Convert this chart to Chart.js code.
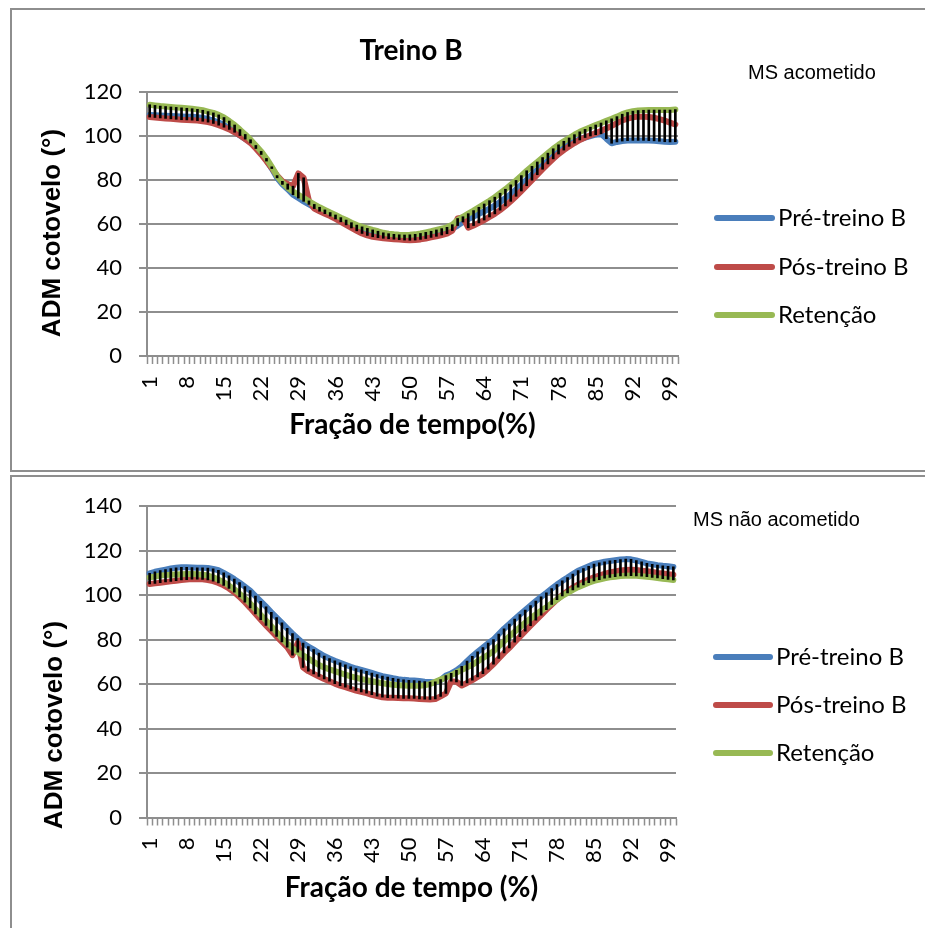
<!DOCTYPE html>
<html><head><meta charset="utf-8">
<script src="https://cdn.jsdelivr.net/npm/chart.js@4.4.0/dist/chart.umd.min.js"></script>
<style>
html,body{margin:0;padding:0;background:#fff;width:925px;height:928px;overflow:hidden;}
.box{position:absolute;left:10px;width:940px;border:2px solid #8e8e8e;box-sizing:border-box;}
#b1{top:8px;height:464px;}
#b2{top:475px;height:470px;}
canvas{position:absolute;left:0;}
#c1{top:0;}
#c2{top:476px;}
</style></head><body>
<div class="box" id="b1"></div><div class="box" id="b2"></div>
<canvas id="c1" width="925" height="470"></canvas>
<canvas id="c2" width="925" height="452"></canvas>
<script>
const categories = ['1','2','3','4','5','6','7','8','9','10','11','12','13','14','15','16','17','18','19','20',
'21','22','23','24','25','26','27','28','29','30','31','32','33','34','35','36','37','38','39','40',
'41','42','43','44','45','46','47','48','49','50','51','52','53','54','55','56','57','58','59','60',
'61','62','63','64','65','66','67','68','69','70','71','72','73','74','75','76','77','78','79','80',
'81','82','83','84','85','86','87','88','89','90','91','92','93','94','95','96','97','98','99','100'];
const xTickLabels = ['1','8','15','22','29','36','43','50','57','64','71','78','85','92','99'];
const seriesNames = ['Pré-treino B','Pós-treino B','Retenção'];
const seriesColors = ['#4A7EBB','#BE4B48','#98B954'];

// Top chart: MS acometido
const topPre = [109.5,109.4,109.3,109.2,109.1,109.0,108.9,108.8,108.7,108.5,
108.2,107.7,107.0,106.1,105.0,103.6,102.0,100.2,98.6,97.5,
94.9,92.2,89.0,85.2,81.0,78.0,75.8,73.3,71.8,70.3,
68.9,67.6,66.4,65.3,64.3,63.2,62.1,61.0,59.8,58.7,
57.8,57.0,56.3,55.7,55.2,54.8,54.5,54.3,54.2,54.2,
54.3,54.6,55.0,55.5,56.0,56.6,57.2,57.9,59.3,60.9,
62.2,63.4,64.6,65.8,67.0,68.3,70.0,71.8,73.6,75.7,
77.8,80.2,82.5,84.6,86.7,88.8,90.9,92.9,94.7,96.2,
97.5,98.5,99.3,100.0,100.6,101.0,98.8,96.7,97.3,97.7,
97.9,98.0,98.0,98.0,97.9,97.8,97.6,97.4,97.3,97.4];
const topPos = [108.6,108.4,108.2,108.0,107.8,107.6,107.4,107.3,107.2,107.0,
106.7,106.3,105.7,104.9,104.0,103.0,101.7,100.3,98.6,96.8,
94.3,91.6,88.6,85.4,82.0,79.4,78.2,77.2,83.0,81.0,
70.5,67.0,65.8,64.7,63.6,62.3,61.0,59.6,58.2,56.9,
55.7,54.8,54.2,53.8,53.5,53.3,53.1,52.9,52.7,52.6,
52.7,53.0,53.4,53.9,54.4,55.0,55.6,57.0,62.5,63.0,
58.3,59.3,60.5,61.8,63.2,64.6,66.3,68.2,70.3,72.6,
75.0,77.4,79.9,82.4,84.9,87.3,89.6,91.8,93.6,95.3,
96.8,98.2,99.3,100.3,101.3,102.3,103.4,104.6,105.9,107.1,
107.9,108.5,108.8,108.8,108.6,108.3,107.7,107.0,106.1,105.2];
const topRet = [114.2,113.9,113.6,113.4,113.2,113.0,112.8,112.6,112.4,112.1,
111.7,111.1,110.5,109.6,108.4,106.8,105.0,102.9,100.7,98.3,
95.7,93.0,89.8,86.0,81.8,78.8,76.5,74.8,73.3,71.8,
70.3,68.9,67.6,66.4,65.2,64.1,62.9,61.8,60.6,59.5,
58.7,58.0,57.3,56.7,56.0,55.6,55.3,55.1,55.0,55.1,
55.3,55.7,56.2,56.7,57.3,57.9,58.5,59.7,61.8,63.3,
64.7,66.1,67.6,69.1,70.6,72.2,74.0,75.8,77.8,79.8,
82.0,84.2,86.2,88.2,90.2,92.2,94.2,96.0,97.6,99.1,
100.6,101.9,103.0,104.0,105.0,105.9,106.9,107.8,108.8,109.9,
110.7,111.3,111.6,111.7,111.8,111.8,111.8,111.8,111.8,112.0];

// Bottom chart: MS não acometido
const botPre = [109.8,110.5,111.0,111.5,112.0,112.3,112.5,112.5,112.4,112.3,
112.3,112.2,111.8,111.2,110.0,108.7,107.2,105.6,103.8,102.0,
99.6,97.2,94.8,92.3,89.9,87.5,85.1,82.7,80.5,78.4,
76.9,75.5,74.0,72.6,71.5,70.5,69.6,68.7,67.8,67.0,
66.4,65.7,65.0,64.3,63.6,63.1,62.6,62.2,61.9,61.7,
61.6,61.4,61.1,60.9,60.7,61.8,63.8,64.8,66.2,68.0,
70.3,72.5,74.5,76.4,78.4,80.0,82.5,84.9,87.0,89.2,
91.3,93.3,95.3,97.3,99.2,101.0,102.9,104.8,106.4,107.9,
109.5,111.0,112.0,113.0,114.0,114.5,115.0,115.4,115.7,116.0,
116.2,116.1,115.6,115.0,114.3,113.9,113.5,113.2,113.0,112.7];
const botPos = [105.0,105.3,105.6,105.9,106.2,106.5,106.8,107.0,107.2,107.2,
107.1,106.8,106.3,105.5,104.4,103.0,101.3,99.2,96.8,94.3,
91.6,89.0,86.4,83.9,81.4,79.0,76.6,73.0,78.5,67.5,
65.8,64.6,63.4,62.3,61.3,60.2,59.3,58.6,57.8,57.1,
56.5,55.9,55.2,54.6,54.1,53.9,53.8,53.7,53.6,53.6,
53.5,53.3,53.2,53.1,53.3,54.5,55.8,61.3,61.0,59.4,
60.5,61.8,63.2,64.7,66.7,69.0,71.5,74.0,76.3,78.8,
81.3,83.8,86.3,88.7,91.0,93.5,95.8,98.0,100.0,101.8,
103.4,104.7,105.9,107.0,108.0,108.8,109.6,110.2,110.7,111.1,
111.3,111.4,111.3,111.0,110.7,110.4,110.0,109.7,109.4,109.2];
const botRet = [108.0,108.4,108.8,109.0,109.2,109.3,109.4,109.5,109.5,109.4,
109.2,108.8,108.0,107.0,105.8,104.3,102.6,100.6,98.6,96.2,
93.7,91.1,88.6,86.0,83.3,80.6,78.2,76.2,74.4,72.9,
71.5,70.0,68.6,67.5,66.6,65.8,65.0,64.2,63.5,62.9,
62.3,61.8,61.3,60.8,60.4,60.0,59.7,59.5,59.4,59.3,
59.3,59.3,59.5,60.0,61.0,62.0,63.0,64.0,65.2,66.4,
67.5,68.7,70.2,71.7,73.2,74.8,77.0,79.2,81.4,83.5,
85.6,87.6,89.5,91.3,93.0,94.6,96.3,98.0,99.6,101.0,
102.4,103.6,104.6,105.6,106.4,107.0,107.6,108.0,108.3,108.6,
108.7,108.8,108.7,108.5,108.3,108.0,107.7,107.4,107.1,106.8];

const GRID = '#8e8e8e';

const annot = {
  id: 'annot',
  afterDraw(chart, args, o) {
    const ctx = chart.ctx;
    ctx.save();
    ctx.fillStyle = '#000';
    ctx.textBaseline = 'middle';
    if (o.title) {
      ctx.font = 'bold 28px Lato';
      ctx.textAlign = 'center';
      ctx.fillText(o.title, o.titleX, o.titleY);
    }
    ctx.save();
    ctx.translate(o.yTitleX, o.yTitleY);
    ctx.rotate(-Math.PI / 2);
    ctx.font = 'bold 26px "Liberation Sans"';
    ctx.textAlign = 'center';
    ctx.fillText(o.yTitle, 0, 0);
    ctx.restore();
    ctx.font = '20px "Liberation Sans"';
    ctx.textAlign = 'left';
    ctx.fillText(o.note, o.noteX, o.noteY);
    let k = 0;
    chart.data.datasets.forEach(ds => {
      if (ds.type === 'bar') return;
      const y = o.legY[k++];
      ctx.strokeStyle = ds.borderColor;
      ctx.lineWidth = 6;
      ctx.lineCap = 'round';
      ctx.beginPath();
      ctx.moveTo(o.legX0, y);
      ctx.lineTo(o.legX1, y);
      ctx.stroke();
      ctx.font = '24px Lato';
      ctx.textAlign = 'left';
      ctx.fillText(ds.label, o.legTextX, y);
    });
    ctx.restore();
  }
};

function build(id, pre, pos, ret, cfg) {
  const hi = pre.map((v, i) => Math.max(v, pos[i], ret[i]));
  const lo = pre.map((v, i) => Math.min(v, pos[i], ret[i]));
  const vals = [pre, pos, ret];
  const datasets = vals.map((d, i) => ({
    type: 'line', label: seriesNames[i], data: d,
    borderColor: seriesColors[i], backgroundColor: seriesColors[i],
    borderWidth: 6, pointRadius: 0, tension: 0,
    borderJoinStyle: 'round', borderCapStyle: 'round', order: 3 - i
  }));
  datasets.push({
    type: 'bar', label: 'high-low', data: lo.map((l, i) => [l, hi[i]]),
    backgroundColor: '#000', borderWidth: 0, barThickness: 2, order: 0
  });
  new Chart(document.getElementById(id), {
    type: 'line',
    data: { labels: categories, datasets },
    options: {
      responsive: false, animation: false, devicePixelRatio: 1,
      layout: { padding: { left: 0, right: cfg.padRight, top: cfg.padTop, bottom: 0 } },
      plugins: { legend: { display: false }, tooltip: { enabled: false }, annot: cfg.annot },
      scales: {
        x: {
          type: 'category', offset: true,
          grid: { offset: true, drawOnChartArea: false, drawTicks: true, tickLength: 8, tickColor: GRID, tickWidth: 1.5 },
          border: { color: GRID, width: 2 },
          ticks: {
            autoSkip: false, maxRotation: 90, minRotation: 90, padding: 12, color: '#000',
            font: { family: 'Lato', size: 22 },
            callback: (v, i) => xTickLabels.includes(categories[i]) ? categories[i] : ''
          },
          title: { display: true, text: cfg.xTitle, color: '#000',
                   font: { family: 'Lato', size: 28, weight: 'bold' },
                   padding: { top: 0, bottom: cfg.xTitlePad } },
          afterFit: s => { s.height = cfg.xHeight; }
        },
        y: {
          min: 0, max: cfg.yMax,
          ticks: { stepSize: 20, padding: 17, color: '#000', font: { family: 'Lato', size: 22 } },
          grid: { color: GRID, lineWidth: 2, drawTicks: true, tickLength: 8, tickColor: GRID, tickWidth: 2 },
          border: { color: GRID, width: 2 },
          afterFit: s => { s.width = 147; }
        }
      }
    },
    plugins: [annot]
  });
}

function drawAll() {
  build('c1', topPre, topPos, topRet, {
    padRight: 247, padTop: 92, xHeight: 114, xTitlePad: 28, yMax: 120,
    xTitle: 'Fração de tempo(%)',
    annot: { title: 'Treino B', titleX: 411, titleY: 51, yTitle: 'ADM cotovelo (°)', yTitleX: 53, yTitleY: 233,
             note: 'MS acometido', noteX: 748, noteY: 73,
             legY: [218, 267, 315], legX0: 717, legX1: 772, legTextX: 778 }
  });
  build('c2', botPre, botPos, botRet, {
    padRight: 249, padTop: 29, xHeight: 110.5, xTitlePad: 23, yMax: 140,
    xTitle: 'Fração de tempo (%)',
    annot: { title: '', yTitle: 'ADM cotovelo (°)', yTitleX: 55, yTitleY: 249,
             note: 'MS não acometido', noteX: 693, noteY: 44,
             legY: [181, 229, 277], legX0: 716, legX1: 770, legTextX: 776 }
  });
}
const fontLoads = ['22px Lato', 'bold 28px Lato', '24px Lato', 'bold 26px "Liberation Sans"', '20px "Liberation Sans"']
  .map(f => document.fonts.load(f));
Promise.all(fontLoads).then(drawAll, drawAll);
</script></body></html>
